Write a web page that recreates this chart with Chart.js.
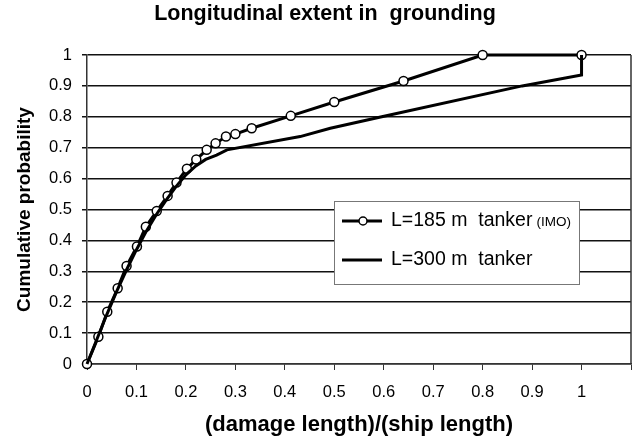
<!DOCTYPE html>
<html>
<head>
<meta charset="utf-8">
<script src="https://cdn.jsdelivr.net/npm/chart.js@4.4.0/dist/chart.umd.min.js"></script>
<style>
  html, body { margin: 0; padding: 0; background: #fff; }
  #wrap { width: 638px; height: 443px; }
</style>
</head>
<body>
<div id="wrap"><canvas id="chart" width="638" height="443"></canvas></div>
<script>
// L=185 m tanker (IMO) - points with circles
const imoX = [0, 0.023, 0.041, 0.062, 0.080, 0.101, 0.119, 0.141, 0.163, 0.181, 0.202, 0.221, 0.242, 0.260, 0.281, 0.300, 0.333, 0.412, 0.500, 0.640, 0.800, 1.0];
const imoY = [0, 0.088, 0.169, 0.245, 0.317, 0.380, 0.444, 0.495, 0.544, 0.587, 0.632, 0.662, 0.693, 0.714, 0.736, 0.744, 0.763, 0.803, 0.848, 0.916, 1.0, 1.0];

// L=300 m tanker - plain line
const bigX = [0, 0.02, 0.04, 0.06, 0.08, 0.10, 0.12, 0.14, 0.16, 0.18, 0.20, 0.22, 0.24, 0.262, 0.283, 0.431, 0.492, 0.596, 0.880, 1.0, 1.0];
const bigY = [0, 0.08, 0.16, 0.235, 0.305, 0.37, 0.43, 0.483, 0.53, 0.574, 0.612, 0.641, 0.662, 0.676, 0.693, 0.736, 0.763, 0.800, 0.900, 0.935, 1.0];

const seriesNames = ["L=185 m  tanker", "L=300 m  tanker"];
const chartTitle = "Longitudinal extent in  grounding";
const FONT = "'Liberation Sans', Arial, sans-serif";

function toPoints(xs, ys) {
    return xs.map((x, i) => ({ x: x, y: ys[i] }));
}

// Draws title, right edge of the plot and the boxed legend
const framePlugin = {
    id: 'frame',
    afterDraw(chart) {
        const ctx = chart.ctx;
        const a = chart.chartArea;
        ctx.save();
        ctx.strokeStyle = '#333';
        ctx.lineWidth = 1.5;
        ctx.beginPath();
        ctx.moveTo(a.right, a.top);
        ctx.lineTo(a.right, a.bottom);
        ctx.stroke();

        ctx.fillStyle = '#000';
        ctx.textAlign = 'center';
        ctx.textBaseline = 'middle';
        ctx.font = 'bold 21.5px ' + FONT;
        ctx.fillText(chartTitle, 325, 14);

        // legend box
        const bx = 334, by = 201, bw = 245, bh = 83;
        ctx.fillStyle = '#fff';
        ctx.fillRect(bx, by, bw, bh);
        ctx.strokeStyle = '#777';
        ctx.lineWidth = 1;
        ctx.strokeRect(bx + 0.5, by + 0.5, bw, bh);

        const rows = [by + 20, by + 59];
        ctx.strokeStyle = '#000';
        ctx.lineWidth = 3;
        rows.forEach(y => {
            ctx.beginPath();
            ctx.moveTo(342, y);
            ctx.lineTo(382, y);
            ctx.stroke();
        });
        ctx.beginPath();
        ctx.arc(363, rows[0], 4, 0, Math.PI * 2);
        ctx.fillStyle = '#fff';
        ctx.fill();
        ctx.lineWidth = 1.5;
        ctx.stroke();

        ctx.fillStyle = '#000';
        ctx.textBaseline = 'middle';
        ctx.textAlign = 'left';
        ctx.font = '19.5px ' + FONT;
        ctx.fillText(seriesNames[0], 391, rows[0]);
        const w = ctx.measureText(seriesNames[0]).width;
        ctx.font = '13.5px ' + FONT;
        ctx.fillText('(IMO)', 391 + w + 4, rows[0] + 1);
        ctx.font = '19.5px ' + FONT;
        ctx.fillText(seriesNames[1], 391, rows[1]);
        ctx.restore();
    }
};

new Chart(document.getElementById('chart'), {
    type: 'scatter',
    plugins: [framePlugin],
    data: {
        datasets: [
            {
                label: seriesNames[1],
                data: toPoints(bigX, bigY),
                showLine: true,
                clip: false,
                borderColor: '#000',
                borderWidth: 3,
                pointRadius: 0,
                tension: 0,
            },
            {
                label: seriesNames[0],
                data: toPoints(imoX, imoY),
                showLine: true,
                clip: false,
                borderColor: '#000',
                borderWidth: 3,
                pointRadius: 4.5,
                pointBackgroundColor: '#fff',
                pointBorderColor: '#000',
                pointBorderWidth: 1.5,
                tension: 0,
            },
        ],
    },
    options: {
        responsive: false,
        animation: false,
        layout: { padding: { left: 0, right: 7, top: 55, bottom: 0 } },
        plugins: {
            legend: { display: false },
            tooltip: { enabled: false },
            title: { display: false },
        },
        scales: {
            x: {
                type: 'linear',
                min: 0,
                max: 1.1,
                afterFit: (scale) => { scale.height = 79; scale.paddingLeft = 0; scale.paddingRight = 0; },
                ticks: {
                    stepSize: 0.1,
                    color: '#000',
                    padding: 13,
                    maxRotation: 0,
                    font: { family: FONT, size: 16.5 },
                    callback: (v) => v > 1.01 ? '' : Math.round(v * 10) / 10,
                },
                grid: { drawOnChartArea: false, color: '#333', tickLength: 6, lineWidth: 1 },
                border: { color: '#333', width: 1.5 },
                title: {
                    display: true,
                    text: '(damage length)/(ship length)',
                    color: '#000',
                    font: { family: FONT, size: 22, weight: 'bold' },
                    padding: { top: 0, bottom: 5 },
                },
            },
            y: {
                min: 0,
                max: 1,
                afterFit: (scale) => { scale.width = 87; scale.paddingTop = 0; scale.paddingBottom = 0; },
                ticks: {
                    stepSize: 0.1,
                    color: '#000',
                    padding: 10,
                    font: { family: FONT, size: 16.5 },
                    callback: (v) => Math.round(v * 10) / 10,
                },
                grid: { color: '#111', lineWidth: 1.5, tickLength: 5 },
                border: { color: '#333', width: 1.5 },
                title: {
                    display: true,
                    text: 'Cumulative probability',
                    color: '#000',
                    font: { family: FONT, size: 19, weight: 'bold' },
                    padding: { top: 13, bottom: 0 },
                },
            },
        },
    },
});
</script>
</body>
</html>
